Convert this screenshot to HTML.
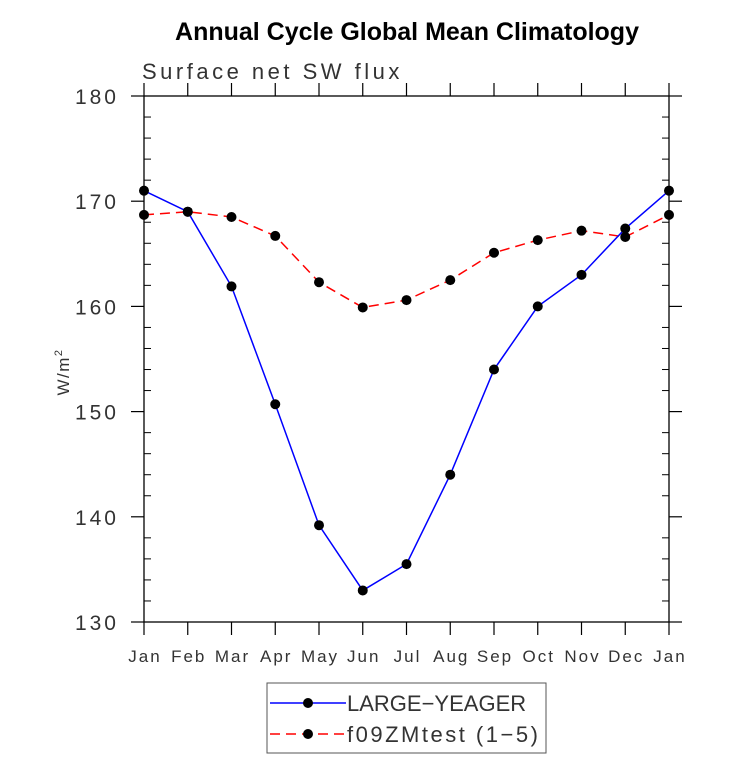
<!DOCTYPE html>
<html><head><meta charset="utf-8"><style>
body{margin:0;background:#fff}
svg text{font-family:"Liberation Sans",sans-serif}
</style></head><body>
<svg id="chart" width="733" height="759" xmlns="http://www.w3.org/2000/svg">
<text x="407" y="40" text-anchor="middle" font-size="25" font-weight="bold" fill="#000">Annual Cycle Global Mean Climatology</text>
<text x="142" y="79" font-size="22" fill="#333" letter-spacing="3.5">Surface net SW flux</text>
<text transform="translate(69,372) rotate(-90)" text-anchor="middle" font-size="17" fill="#333" letter-spacing="1.5">W/m<tspan dy="-7" font-size="11">2</tspan></text>
<g id="axes"></g>
<g id="series"></g>
<g>
<rect x="267" y="683" width="279" height="70" fill="none" stroke="#555" stroke-width="1"/>
<g>
<line x1="270" y1="703" x2="346" y2="703" stroke="#00f" stroke-width="1.5"/>
<circle cx="308" cy="703" r="5" fill="#000"/>
<text x="347" y="711" font-size="22" fill="#333">LARGE−YEAGER</text>
</g>
<g>
<line x1="270" y1="734" x2="346" y2="734" stroke="#f00" stroke-width="1.5" stroke-dasharray="10,6"/>
<circle cx="308" cy="734" r="5" fill="#000"/>
<text x="347" y="742" font-size="22" fill="#333" letter-spacing="2.5">f09ZMtest (1−5)</text>
</g>
</g>
</svg>
<script>
const months = ["Jan","Feb","Mar","Apr","May","Jun","Jul","Aug","Sep","Oct","Nov","Dec","Jan"];
const largeYeager = [171.0,169.0,161.9,150.7,139.2,133.0,135.5,144.0,154.0,160.0,163.0,167.4,171.0];
const f09ZMtest = [168.7,169.0,168.5,166.7,162.3,159.9,160.6,162.5,165.1,166.3,167.2,166.6,168.7];
const yTicks = [130,140,150,160,170,180];

const NS="http://www.w3.org/2000/svg";
const L=144,R=669,T=96,B=622,yMin=130,yMax=180;
const xs=i=>L+(R-L)*i/(months.length-1);
const ys=v=>B-(B-T)*(v-yMin)/(yMax-yMin);
function mk(tag,attrs,parent){const e=document.createElementNS(NS,tag);for(const k in attrs)e.setAttribute(k,attrs[k]);parent.appendChild(e);return e;}
const axes=document.getElementById('axes');
const frame=mk('rect',{x:L,y:T,width:R-L,height:B-T,fill:'none',stroke:'#000','stroke-width':1.3},axes);


months.forEach((m,i)=>{
  const x=xs(i);
  mk('line',{x1:x,y1:B,x2:x,y2:B+13,stroke:'#000','stroke-width':1.2},axes);
  mk('line',{x1:x,y1:T,x2:x,y2:T-13,stroke:'#000','stroke-width':1.2},axes);
  const t=mk('text',{x:x+1,y:B+40,'text-anchor':'middle','font-size':17,fill:'#333','letter-spacing':2},axes);
  t.textContent=m;
  
  
});
for(let v=yMin;v<=yMax;v+=2){
  const y=ys(v);
  if((v-yMin)%10===0){
    mk('line',{x1:L-13,y1:y,x2:L,y2:y,stroke:'#000','stroke-width':1.2},axes);
    mk('line',{x1:R,y1:y,x2:R+13,y2:y,stroke:'#000','stroke-width':1.2},axes);
  }else{
    mk('line',{x1:L,y1:y,x2:L+7,y2:y,stroke:'#000','stroke-width':1},axes);
    mk('line',{x1:R-7,y1:y,x2:R,y2:y,stroke:'#000','stroke-width':1},axes);
  }
}
yTicks.forEach(v=>{
  const t=mk('text',{x:L-25,y:ys(v)+8,'text-anchor':'end','font-size':21,fill:'#333','letter-spacing':3},axes);
  t.textContent=v;
  
  
});
const ser=document.getElementById('series');
function draw(vals,color,dash,name){
  const g=mk('g',{},ser);
  
  
  const p=mk('polyline',{points:vals.map((v,i)=>xs(i)+','+ys(v)).join(' '),fill:'none',stroke:color,'stroke-width':1.5},g);
  if(dash)p.setAttribute('stroke-dasharray',dash);
  
  
  vals.forEach((v,i)=>{
    const c=mk('circle',{cx:xs(i),cy:ys(v),r:5,fill:'#000'},g);
    
    
  });
}
draw(f09ZMtest,'#f00','10,6','f09zmtest-series');
draw(largeYeager,'#00f',null,'large-yeager-series');
</script>
</body></html>
